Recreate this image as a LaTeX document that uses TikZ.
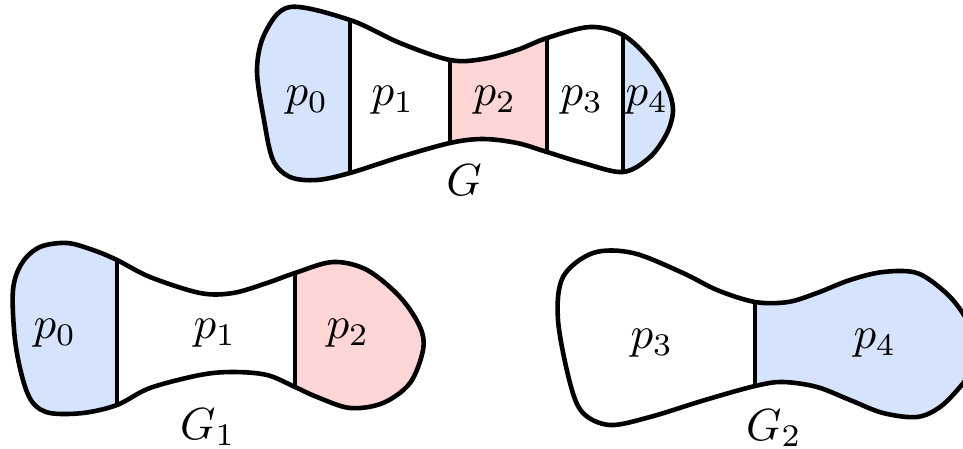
\documentclass[tikz,border=0pt]{standalone}
\definecolor{pblue}{RGB}{213,228,252}
\definecolor{pred}{RGB}{255,214,214}
\begin{document}
\begin{tikzpicture}[x=0.24pt,y=-0.24pt,
  outline/.style={line width=1.1pt, line join=round},
  lab/.style={inner sep=0pt, scale=1.08}]
\useasboundingbox (0,0) rectangle (963,448);
% ---------- G ----------
\def\blobG{plot[smooth cycle,tension=0.55] coordinates {(290,7) (350,20) (400,43) (450,60) (483,59) (517,50) (547,38) (590,27) (623,35) (650,60) (667,87) (673,110) (667,133) (650,157) (623,172) (583,163) (547,152) (517,143) (483,139) (450,143) (400,157) (350,173) (317,180) (290,177) (273,160) (264,120) (257,70) (265,33)}}
\begin{scope}
  \clip \blobG;
  \fill[pblue] (240,0) rectangle (350,200);
  \fill[pred] (450,0) rectangle (547,200);
  \fill[pblue] (623,0) rectangle (700,200);
\end{scope}
\draw[outline] (350,20) -- (350,173);
\draw[outline] (450,60) -- (450,143);
\draw[outline] (547,38) -- (547,152);
\draw[outline] (623,35) -- (623,172);
\draw[outline] \blobG;
\node[lab] (gp0) at (307,100) {$p_0$};
\node[lab] (gp1) at (393,100) {$p_1$};
\node[lab] (gp2) at (495,100) {$p_2$};
\node[lab] (gp3) at (582,100) {$p_3$};
\node[lab] (gp4) at (647,100) {$p_4$};
\node[lab] (gG) at (464,180) {$G$};
% ---------- G1 ----------
\def\blobA{plot[smooth cycle,tension=0.55] coordinates {(40,247) (67,243) (93,250) (117,260) (150,277) (200,293) (233,293) (267,283) (295,273) (333,262) (367,270) (400,297) (420,327) (423,350) (410,383) (383,403) (350,408) (317,397) (295,387) (267,375) (233,372) (200,375) (150,388) (117,405) (83,413) (50,413) (33,403) (23,380) (15,340) (13,290) (22,263)}}
\begin{scope}
  \clip \blobA;
  \fill[pblue] (0,230) rectangle (117,430);
  \fill[pred] (295,230) rectangle (440,430);
\end{scope}
\draw[outline] (117,260) -- (117,405);
\draw[outline] (295,273) -- (295,387);
\draw[outline] \blobA;
\node[lab] (ap0) at (55,333) {$p_0$};
\node[lab] (ap1) at (215,333) {$p_1$};
\node[lab] (ap2) at (348,333) {$p_2$};
\node[lab] (aG) at (208,427) {$G_1$};
% ---------- G2 ----------
\def\blobB{plot[smooth cycle,tension=0.55] coordinates {(593,253) (633,253) (683,273) (717,290) (755,302) (788,302) (817,293) (850,280) (883,272) (917,273) (945,292) (962,312) (972,332) (974,350) (970,372) (960,387) (940,407) (917,417) (883,413) (850,400) (817,387) (783,382) (755,386) (705,400) (650,417) (610,425) (583,413) (570,383) (558,320) (563,277)}}
\begin{scope}
  \clip \blobB;
  \fill[pblue] (755,230) rectangle (1000,440);
\end{scope}
\draw[outline] (755,302) -- (755,386);
\draw[outline] \blobB;
\node[lab] (bp3) at (652,343) {$p_3$};
\node[lab] (bp4) at (875,343) {$p_4$};
\node[lab] (bG) at (774,428) {$G_2$};
\end{tikzpicture}
\end{document}
